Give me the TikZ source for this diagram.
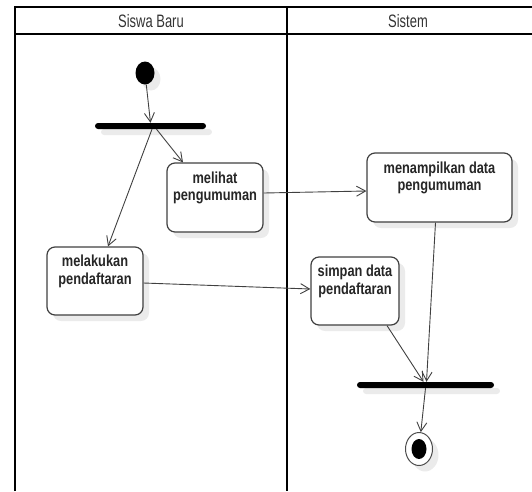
\documentclass[tikz,border=0pt]{standalone}
\usepackage{fontspec}
\newfontfamily\lanefont[FakeStretch=0.72]{Liberation Sans}
\newfontfamily\boxfont[FakeStretch=0.8]{Liberation Sans}
\usepackage{tikz}
\usetikzlibrary{shapes.geometric, arrows.meta, shadows}
\tikzstyle{shade} = [drop shadow={shadow xshift=6pt, shadow yshift=-6pt, fill=black!8, opacity=1}]
\tikzstyle{activity} = [rectangle, rounded corners=8pt, draw=black!75, line width=1.2pt, fill=white, shade, align=center, text=black!85, font=\boxfont\bfseries\fontsize{16}{17.5}\selectfont, inner sep=3pt, text depth=23pt]
\tikzstyle{bar} = [rectangle, rounded corners=3pt, fill=black, minimum height=6pt, inner sep=0pt, shade]
\tikzstyle{lane} = [text=black!80, font=\lanefont\fontsize{18}{20}\selectfont]
\tikzstyle{arrow} = [line width=0.9pt, draw=black!75, ->, >={Straight Barb[length=9pt,width=10pt]}]

\begin{document}
\begin{tikzpicture}[x=1pt, y=-1pt]
\useasboundingbox (0,0) rectangle (532,491);
% swimlanes
\draw[line width=2pt] (15,491) -- (15,7) -- (532,7);
\draw[line width=2pt] (15,34) -- (532,34);
\draw[line width=2pt] (287,7) -- (287,491);
\node (lane1) [lane] at (151,21) {Siswa Baru};
\node (lane2) [lane] at (408,21) {Sistem};

\node (start) [ellipse, fill=black, minimum width=19pt, minimum height=23pt, inner sep=0pt, shade] at (145,73) {};
\node (fork) [bar, minimum width=111pt] at (150.5,126) {};
\node (A1) [activity, minimum width=96pt, minimum height=69pt] at (215,197.5) {melihat\\pengumuman};
\node (A2) [activity, minimum width=96pt, minimum height=68pt] at (95,281) {melakukan\\pendaftaran};
\node (B1) [activity, minimum width=145pt, minimum height=69pt] at (439.5,187.5) {menampilkan data\\pengumuman};
\node (B2) [activity, minimum width=88pt, minimum height=68pt] at (355,291) {simpan data\\pendaftaran};
\node (join) [bar, minimum width=137pt] at (425.5,385) {};
\node (end) [ellipse, draw=black!70, line width=1pt, fill=white, minimum width=27pt, minimum height=33pt, inner sep=0pt, shade] at (419,449) {};
\fill (end.center) ellipse (7.5pt and 10pt);

\draw [arrow] (start) -- (fork.north);
\draw [arrow] ([xshift=6pt]fork.south) -- ([xshift=-32pt]A1.north);
\draw [arrow] ([xshift=1.5pt]fork.south) -- ([xshift=13pt]A2.north);
\draw [arrow] ([yshift=4.5pt]A1.east) -- ([yshift=-3.5pt]B1.west);
\draw [arrow] ([yshift=-2pt]A2.east) -- ([yshift=2pt]B2.west);
\draw [arrow] ([xshift=32pt]B2.south) -- ([xshift=-2pt]join.north);
\draw [arrow] ([xshift=-4pt]B1.south) -- ([xshift=1pt]join.north);
\draw [arrow] (join.south) -- (end);
\end{tikzpicture}
\end{document}
